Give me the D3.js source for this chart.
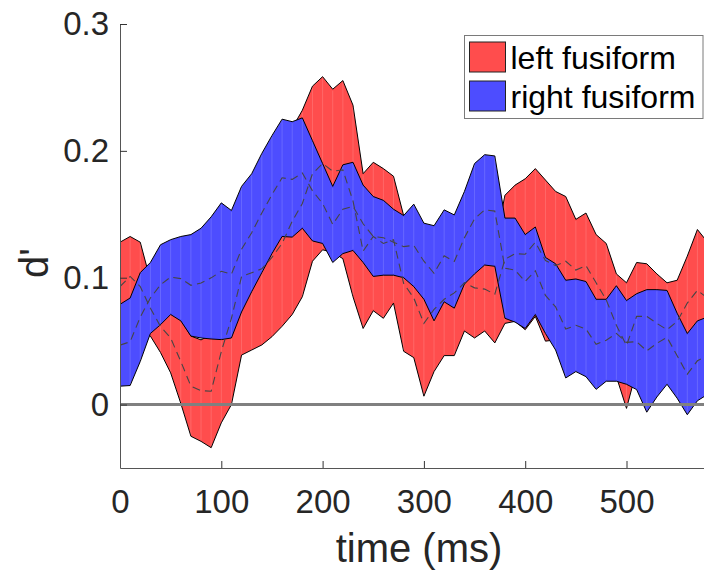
<!DOCTYPE html>
<html>
<head>
<meta charset="utf-8">
<script src="https://cdn.jsdelivr.net/npm/d3@7"></script>
<style>
  body { margin: 0; background: #fff; }
  svg { display: block; font-family: "Liberation Sans", Arial, Helvetica, sans-serif; }
</style>
</head>
<body>
<svg id="chart" width="704" height="576"></svg>
<script>
// time points (ms)
let times = [0, 10, 20, 30, 40, 50, 60, 70, 80, 90,
  100, 110, 120, 130, 140, 150, 160, 170, 180, 190,
  200, 210, 220, 230, 240, 250, 260, 270, 280, 290,
  300, 310, 320, 330, 340, 350, 360, 370, 380, 390,
  400, 410, 420, 430, 440, 450, 460, 470, 480, 490,
  500, 510, 520, 530, 540, 550, 560, 570, 580];

// left fusiform band (upper / lower edge) and its mean
let leftUpper = [0.128, 0.1325, 0.128, 0.098, 0.082, 0.080, 0.067, 0.054, 0.051, 0.055,
  0.098, 0.136, 0.163, 0.165, 0.167, 0.179, 0.192, 0.218, 0.232, 0.251,
  0.2585, 0.2486, 0.2554, 0.236, 0.182, 0.191, 0.186, 0.180, 0.149, 0.131,
  0.121, 0.124, 0.127, 0.137, 0.134, 0.131, 0.124, 0.125, 0.165, 0.173,
  0.178, 0.186, 0.177, 0.168, 0.164, 0.146, 0.151, 0.134, 0.127, 0.103,
  0.096, 0.112, 0.111, 0.103, 0.096, 0.098, 0.117, 0.138, 0.128];
let leftLower = [0.058, 0.0695, 0.058, 0.054, 0.041, 0.025, 0.001, -0.025, -0.029, -0.034,
  -0.0144, 0.000, 0.039, 0.043, 0.047, 0.0535, 0.0617, 0.071, 0.085, 0.113,
  0.122, 0.120, 0.115, 0.085, 0.060, 0.074, 0.068, 0.080, 0.042, 0.037,
  0.0066, 0.026, 0.0386, 0.0386, 0.058, 0.0525, 0.058, 0.0486, 0.064, 0.0656,
  0.059, 0.0695, 0.050, 0.051, 0.062, 0.066, 0.068, 0.058, 0.038, 0.022,
  -0.003, 0.027, 0.028, 0.025, 0.022, 0.033, 0.043, 0.042, 0.040];
let leftMean = [0.093, 0.101, 0.093, 0.076, 0.0615, 0.0525, 0.034, 0.0145, 0.011, 0.0105,
  0.0418, 0.068, 0.101, 0.104, 0.107, 0.116, 0.127, 0.1445, 0.1585, 0.182,
  0.190, 0.184, 0.185, 0.1605, 0.121, 0.1325, 0.127, 0.130, 0.0955, 0.084,
  0.064, 0.075, 0.083, 0.088, 0.096, 0.092, 0.091, 0.087, 0.1145, 0.119,
  0.1185, 0.128, 0.1135, 0.1095, 0.113, 0.106, 0.1095, 0.096, 0.0825, 0.0625,
  0.0465, 0.0695, 0.0695, 0.064, 0.059, 0.0655, 0.080, 0.090, 0.084];

// right fusiform band (upper / lower edge) and its mean
let rightUpper = [0.079, 0.084, 0.104, 0.112, 0.126, 0.130, 0.1325, 0.134, 0.139, 0.148,
  0.159, 0.153, 0.172, 0.182, 0.198, 0.212, 0.225, 0.223, 0.226, 0.208,
  0.190, 0.172, 0.189, 0.191, 0.173, 0.164, 0.161, 0.154, 0.149, 0.158,
  0.143, 0.141, 0.1535, 0.1495, 0.168, 0.190, 0.197, 0.196, 0.147, 0.147,
  0.134, 0.140, 0.116, 0.111, 0.098, 0.099, 0.097, 0.083, 0.083, 0.0937,
  0.082, 0.0874, 0.0906, 0.0906, 0.090, 0.072, 0.056, 0.066, 0.069];
let rightLower = [0.0145, 0.015, 0.034, 0.056, 0.063, 0.071, 0.066, 0.054, 0.0525, 0.0517,
  0.0512, 0.0525, 0.073, 0.089, 0.104, 0.119, 0.1325, 0.132, 0.139, 0.129,
  0.127, 0.112, 0.119, 0.1215, 0.112, 0.101, 0.102, 0.102, 0.100, 0.093,
  0.083, 0.066, 0.081, 0.076, 0.095, 0.103, 0.110, 0.109, 0.068, 0.065,
  0.060, 0.071, 0.056, 0.043, 0.021, 0.026, 0.022, 0.012, 0.0184, 0.0184,
  0.016, 0.0118, -0.006, 0.006, 0.016, 0.005, -0.008, 0.003, 0.008];
let rightMean = [0.0468, 0.0495, 0.069, 0.084, 0.0945, 0.1005, 0.0993, 0.094, 0.0958, 0.0999,
  0.1051, 0.1028, 0.1225, 0.1355, 0.151, 0.1655, 0.1788, 0.1775, 0.1825, 0.1685,
  0.1585, 0.142, 0.154, 0.1563, 0.1425, 0.1325, 0.1315, 0.128, 0.1245, 0.1255,
  0.113, 0.1035, 0.1173, 0.1128, 0.1315, 0.1465, 0.1535, 0.1525, 0.1075, 0.106,
  0.097, 0.1055, 0.086, 0.077, 0.0595, 0.0625, 0.0595, 0.0475, 0.0507, 0.0561,
  0.049, 0.0496, 0.0423, 0.0483, 0.053, 0.0385, 0.024, 0.0345, 0.0385];

let xTicks = [0, 100, 200, 300, 400, 500];
let yTicks = [0, 0.1, 0.2, 0.3];

let seriesNames = ["left fusiform", "right fusiform"];
let seriesColors = ["#ff4d4d", "#4d4dff"];

let drawChart = function() {
  let svg = d3.select("#chart");

  // the axes box of the original figure (it runs past the right edge)
  let margin = { top: 24, left: 120, bottom: 108 };
  let width = 704;
  let height = 576;

  let x = d3.scaleLinear()
    .domain([0, 576.5])
    .range([margin.left, width]);

  let y = d3.scaleLinear()
    .domain([-0.05, 0.3])
    .range([height - margin.bottom, margin.top]);

  let bands = [
    { upper: leftUpper, lower: leftLower, mean: leftMean, color: seriesColors[0] },
    { upper: rightUpper, lower: rightLower, mean: rightMean, color: seriesColors[1] }
  ];

  svg.append("clipPath").attr("id", "plot-clip")
    .append("rect")
    .attr("x", x.range()[0])
    .attr("y", y.range()[1])
    .attr("width", x.range()[1] - x.range()[0])
    .attr("height", y.range()[0] - y.range()[1]);

  let plot = svg.append("g").attr("id", "plot").attr("clip-path", "url(#plot-clip)");

  let area = d3.area()
    .x(i => x(times[i]))
    .y0(i => y(0))
    .y1(i => y(0));

  let idx = d3.range(times.length);

  // shaded bands, left first so the right one sits on top
  bands.forEach(b => {
    let bandArea = d3.area()
      .x(i => x(times[i]))
      .y0(i => y(b.lower[i]))
      .y1(i => y(b.upper[i]));

    plot.append("path")
      .datum(idx)
      .attr("d", bandArea)
      .attr("fill", b.color)
      .attr("stroke", "#000")
      .attr("stroke-width", 1)
      .attr("stroke-linejoin", "round");

    // faint light streaks the patch renderer leaves inside the fill
    plot.append("g")
      .selectAll("line")
      .data(idx)
      .enter().append("line")
      .attr("x1", i => x(times[i]))
      .attr("x2", i => x(times[i]))
      .attr("y1", i => y(b.lower[i]) - 1.5)
      .attr("y2", i => y(b.upper[i]) + 1.5)
      .attr("stroke", "#fff")
      .attr("stroke-opacity", 0.22)
      .attr("stroke-width", 0.7);
  });

  // dashed means on top of both bands
  bands.forEach(b => {
    let meanLine = d3.line()
      .x(i => x(times[i]))
      .y(i => y(b.mean[i]));

    plot.append("path")
      .datum(idx)
      .attr("d", meanLine)
      .attr("fill", "none")
      .attr("stroke", "#454545")
      .attr("stroke-width", 1.1)
      .attr("stroke-dasharray", "8,5");
  });

  // zero reference line
  plot.append("line")
    .attr("x1", x.range()[0])
    .attr("x2", x.range()[1])
    .attr("y1", y(0))
    .attr("y2", y(0))
    .attr("stroke", "#808080")
    .attr("stroke-width", 3);

  // axes, ticks point inward like matlab
  let xAxis = d3.axisBottom(x)
    .tickValues(xTicks)
    .tickFormat(d3.format("d"))
    .tickSizeInner(-7)
    .tickSizeOuter(0)
    .tickPadding(22);

  let yAxis = d3.axisLeft(y)
    .tickValues(yTicks)
    .tickFormat(d => d === 0 ? "0" : d3.format(".1f")(d))
    .tickSizeInner(-7)
    .tickSizeOuter(0)
    .tickPadding(11);

  let xGroup = svg.append("g").attr("id", "x-axis")
    .attr("transform", "translate(0," + y.range()[0] + ")")
    .call(xAxis);

  let yGroup = svg.append("g").attr("id", "y-axis")
    .attr("transform", "translate(" + x.range()[0] + ",0)")
    .call(yAxis);

  [xGroup, yGroup].forEach(g => {
    g.select(".domain").attr("stroke", "#555");
    g.selectAll(".tick line").attr("stroke", "#333");
    g.selectAll(".tick text")
      .attr("fill", "#262626")
      .style("font-size", "33px")
      .style("font-family", "'Liberation Sans', Arial, Helvetica, sans-serif");
  });

  // axis titles
  svg.append("text")
    .attr("x", 419)
    .attr("y", 562)
    .attr("text-anchor", "middle")
    .attr("fill", "#262626")
    .style("font-size", "40px")
    .text("time (ms)");

  svg.append("text")
    .attr("transform", "translate(48,263) rotate(-90)")
    .attr("text-anchor", "middle")
    .attr("fill", "#262626")
    .style("font-size", "40px")
    .text("d'");

  // legend box in the top right corner
  let legend = svg.append("g").attr("id", "legend")
    .attr("transform", "translate(464.5,35.5)");

  legend.append("rect")
    .attr("width", 238.5)
    .attr("height", 83)
    .attr("fill", "#fff")
    .attr("stroke", "#7a7a7a")
    .attr("stroke-width", 1);

  let items = legend.selectAll(".item")
    .data(seriesNames)
    .enter().append("g")
    .attr("class", "item")
    .attr("transform", (d, i) => "translate(0," + (i * 39) + ")");

  items.append("rect")
    .attr("x", 5)
    .attr("y", 6.5)
    .attr("width", 36)
    .attr("height", 30)
    .attr("fill", (d, i) => seriesColors[i])
    .attr("stroke", "#222")
    .attr("stroke-width", 1);

  items.append("text")
    .attr("x", 46)
    .attr("y", 33.5)
    .attr("fill", "#000")
    .style("font-size", "32px")
    .text(d => d);
};

drawChart();
</script>
</body>
</html>
